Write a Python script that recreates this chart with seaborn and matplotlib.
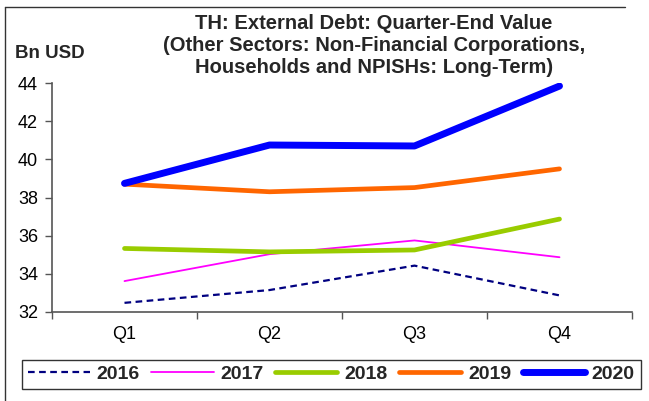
import matplotlib
matplotlib.use("Agg")
import matplotlib.pyplot as plt
from matplotlib.lines import Line2D
import seaborn as sns
import pandas as pd

quarters = ["Q1", "Q2", "Q3", "Q4"]
years = ["2016", "2017", "2018", "2019", "2020"]
debt_2016 = [32.48, 33.15, 34.43, 32.87]
debt_2017 = [33.62, 35.03, 35.75, 34.87]
debt_2018 = [35.33, 35.15, 35.25, 36.87]
debt_2019 = [38.70, 38.30, 38.52, 39.50]
debt_2020 = [38.74, 40.75, 40.70, 43.84]

series = [debt_2016, debt_2017, debt_2018, debt_2019, debt_2020]
rows = []
for yr, vals in zip(years, series):
    for qi, v in enumerate(vals):
        rows.append({"quarter": qi, "year": yr, "value": v})
df = pd.DataFrame(rows)

colors = {"2016": "#000080", "2017": "#FF00FF", "2018": "#99CC00",
          "2019": "#FF6600", "2020": "#0000FF"}
widths = {"2016": 1.6, "2017": 1.3, "2018": 3.4, "2019": 3.4, "2020": 5.0}
dashes = {"2016": (3, 2), "2017": "", "2018": "", "2019": "", "2020": ""}

sns.set_theme(style="white")
plt.rcParams["font.family"] = ["Liberation Sans", "DejaVu Sans"]

fig = plt.figure(figsize=(6.49, 4.01), dpi=100)
ax = fig.add_axes([52 / 649, 1 - 312 / 401, 580 / 649, 229 / 401])

sns.lineplot(data=df, x="quarter", y="value", hue="year", style="year",
             palette=colors, dashes=dashes, ax=ax, legend=False)
for line, yr in zip(ax.get_lines(), years):
    line.set_linewidth(widths[yr])
    line.set_solid_capstyle("round")
    line.set_solid_joinstyle("round")

ax.set_xlim(-0.5, 3.5)
ax.set_ylim(32, 44)
ax.set_yticks(range(32, 45, 2))
ax.set_xticks([-0.5, 0.5, 1.5, 2.5, 3.5])
ax.set_xticklabels([])
ax.set_xticks(range(4), minor=True)
ax.set_xticklabels(quarters, minor=True)
ax.tick_params(axis="x", which="major", length=5, width=1, color="#555555",
               direction="out", bottom=True)
ax.tick_params(axis="x", which="minor", length=0, pad=10, labelsize=13,
               labelcolor="black")
ax.tick_params(axis="y", length=5, width=1, color="#555555", direction="out",
               left=True, labelsize=13, labelcolor="black", pad=5)
ax.set_xlabel("")
ax.set_ylabel("")
for side in ["top", "right"]:
    ax.spines[side].set_visible(False)
for side in ["left", "bottom"]:
    ax.spines[side].set_color("#555555")
    ax.spines[side].set_linewidth(1.2)
ax.grid(False)

fig.text(374 / 649, 1 - 14 / 401,
         "TH: External Debt: Quarter-End Value\n"
         "(Other Sectors: Non-Financial Corporations,\n"
         "Households and NPISHs: Long-Term)",
         ha="center", va="top", fontsize=14.5, fontweight="bold",
         linespacing=1.2, transform=fig.transFigure)
fig.text(15 / 649, 1 - 54 / 401, "Bn USD", ha="left", va="center",
         fontsize=13.5, fontweight="bold")

handles = [Line2D([], [], color=colors[y], lw=widths[y],
                  linestyle=(0, (3, 2)) if y == "2016" else "-",
                  solid_capstyle="round") for y in years]
leg = fig.legend(handles, years, loc="lower left", ncol=5, mode="expand",
                 bbox_to_anchor=(21.7 / 649, 1 - 389 / 401, 619 / 649, 26 / 401),
                 borderaxespad=0, frameon=True, fancybox=False,
                 handlelength=3.2, handletextpad=0.35, columnspacing=0.8,
                 borderpad=0.3, prop={"weight": "bold", "size": 14})
leg.get_frame().set_edgecolor("black")
leg.get_frame().set_linewidth(1.0)

fig.add_artist(Line2D([5 / 649, 5 / 649], [0, 1 - 7 / 401], color="#333333",
                      lw=1.0, transform=fig.transFigure))
fig.add_artist(Line2D([5 / 649, 625 / 649], [1 - 7 / 401, 1 - 7 / 401],
                      color="#333333", lw=1.0, transform=fig.transFigure))

fig.savefig("out.png", dpi=100)
